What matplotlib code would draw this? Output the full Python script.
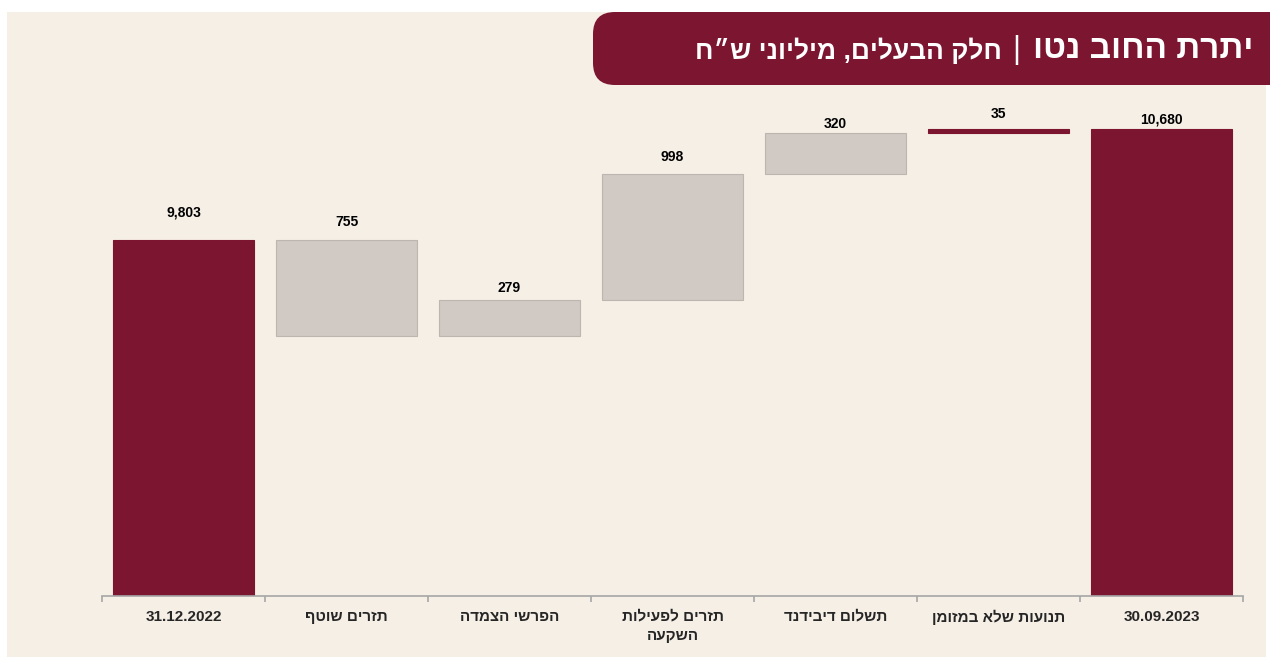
import matplotlib.pyplot as plt
from matplotlib.patches import Rectangle, FancyBboxPatch

plt.rcParams['font.family'] = ['Liberation Sans Narrow', 'Liberation Sans', 'DejaVu Sans']

# נתונים
categories = ['31.12.2022', 'תזרים שוטף', 'הפרשי הצמדה', 'תזרים לפעילות\nהשקעה',
              'תשלום דיבידנד', 'תנועות שלא במזומן', '30.09.2023']
values = [9803, -755, 279, 998, 320, 35, 10680]
kinds = ['total', 'delta', 'delta', 'delta', 'delta', 'delta', 'total']
labels = ['9,803', '755', '279', '998', '320', '35', '10,680']

red = '#7B1530'
gray = '#D0C9C4'
bg = '#F6EFE6'
bar_colors = [red, gray, gray, gray, gray, red, red]
label_pad = [15, 8, 4, 7, 2, 6, 2]  # points above top


def rtl(s):
    # matplotlib has no bidi, flip each line by hand
    out = []
    for line in s.split('\n'):
        if any('\u0590' <= c <= '\u05ff' for c in line):
            out.append(line[::-1])
        else:
            out.append(line)
    return '\n'.join(out)


fig = plt.figure(figsize=(12.7, 6.57), dpi=100)
fig.patch.set_facecolor('white')

# background layer in pixel coordinates
bgax = fig.add_axes([0, 0, 1, 1], zorder=0)
bgax.set_xlim(0, 1270)
bgax.set_ylim(657, 0)
bgax.axis('off')
bgax.add_patch(Rectangle((7, 12), 1259, 645, facecolor=bg, edgecolor='none'))
bgax.add_patch(FancyBboxPatch((593, 12), 720, 73,
                              boxstyle='round,pad=0,rounding_size=22',
                              facecolor=red, edgecolor='none'))
bgax.text(1253, 50, rtl('יתרת החוב נטו'), color='white', fontsize=24,
          fontweight='bold', ha='right', va='center')
bgax.text(1016, 50, '|', color='white', fontsize=22, ha='center', va='center')
bgax.text(1002, 51, rtl('חלק הבעלים, מיליוני ש״ח'), color='white', fontsize=19,
          fontweight='bold', ha='right', va='center')

ax = fig.add_axes([102 / 1270, 1 - 596 / 657, (1243 - 102) / 1270, (596 - 100) / 657], zorder=1)
ax.set_facecolor('none')

x = list(range(len(categories)))
running = 0
for i, (v, k) in enumerate(zip(values, kinds)):
    if k == 'total':
        bottom, height = 0, v
        running = v
    else:
        if v < 0:
            bottom, height = running + v, -v
        else:
            bottom, height = running, v
        running += v
    edge = '#BDB5AF' if bar_colors[i] == gray else red
    ax.bar(i, height, bottom=bottom, width=0.86, color=bar_colors[i],
           edgecolor=edge, linewidth=0.8, zorder=2)
    ax.annotate(labels[i], (i, bottom + height), xytext=(0, label_pad[i]),
                textcoords='offset points', ha='center', va='bottom',
                fontsize=10, fontweight='bold', color='black')

ax.set_xlim(-0.5, len(categories) - 0.5)
ax.set_ylim(6990, 10909)
ax.set_yticks([])
for s in ['top', 'right', 'left']:
    ax.spines[s].set_visible(False)
ax.spines['bottom'].set_color('#A6A6A6')
ax.spines['bottom'].set_linewidth(1.2)

ax.set_xticks(x)
ax.set_xticklabels([rtl(c) for c in categories], fontsize=11, fontweight='bold',
                   va='top', linespacing=1.45)
ax.tick_params(axis='x', which='major', length=0, pad=10, colors='#262626')
ax.set_xticks([i - 0.5 for i in range(len(categories) + 1)], minor=True)
ax.tick_params(axis='x', which='minor', length=4, width=1.2, color='#A6A6A6')

fig.savefig('out.png', dpi=100, facecolor=fig.get_facecolor())
